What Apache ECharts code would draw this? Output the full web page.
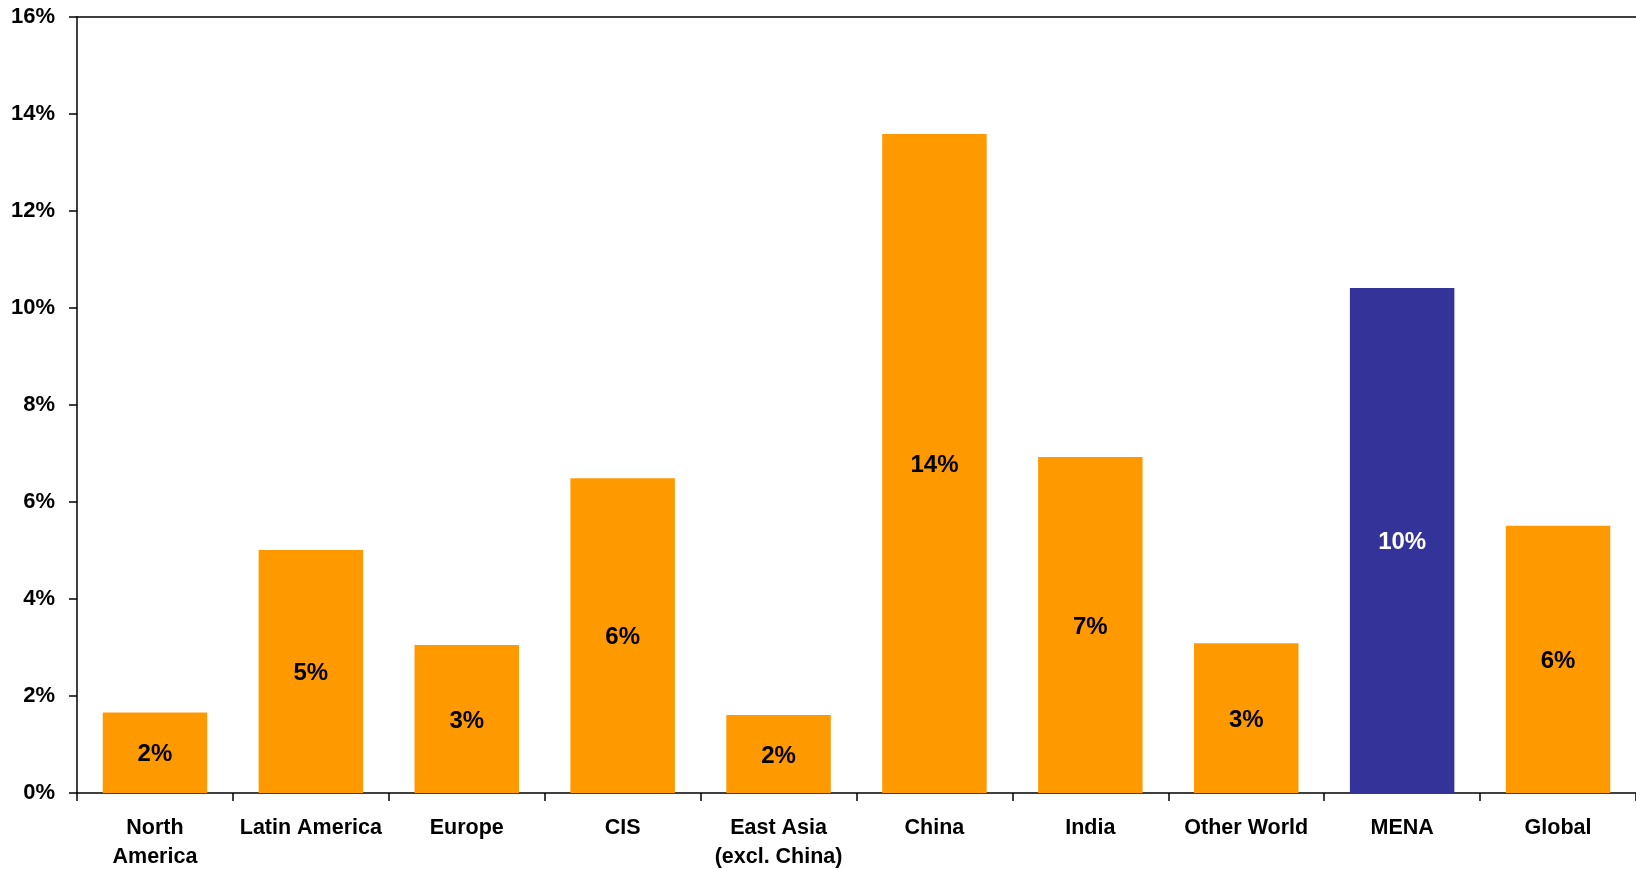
<!DOCTYPE html>
<html>
<head>
<meta charset="utf-8">
<script src="https://cdn.jsdelivr.net/npm/echarts@6/dist/echarts.min.js"></script>
<style>
html,body{margin:0;padding:0;background:#fff;}
#chart{width:1636px;height:870px;}
</style>
</head>
<body>
<div id="chart"></div>
<script>
const categories = ["North\nAmerica", "Latin America", "Europe", "CIS", "East Asia\n(excl. China)", "China", "India", "Other World", "MENA", "Global"];
const values = [1.66, 5.01, 3.05, 6.49, 1.61, 13.59, 6.93, 3.09, 10.41, 5.51];
const highlight = "MENA";
const yTicks = [0, 2, 4, 6, 8, 10, 12, 14, 16];

const ORANGE = "#FF9900", BLUE = "#333399";
const FONT = "Liberation Sans, Arial, sans-serif";

const chart = echarts.init(document.getElementById('chart'));
chart.setOption({
  animation: false,
  backgroundColor: '#fff',
  grid: {left: 77, top: 17, right: 0, bottom: 77, containLabel: false, outerBoundsMode: 'none'},
  xAxis: [{
    type: 'category',
    data: categories,
    boundaryGap: true,
    axisLine: {lineStyle: {color: '#000', width: 1.5}},
    axisTick: {show: true, alignWithLabel: false, length: 8, lineStyle: {color: '#000', width: 1.5}},
    axisLabel: {color: '#000', fontFamily: FONT, fontWeight: 'bold', fontSize: 21.5, lineHeight: 29, margin: 21, interval: 0}
  }, {
    type: 'category',
    position: 'top',
    data: categories,
    axisLine: {show: true, lineStyle: {color: '#000', width: 1.5}},
    axisTick: {show: false},
    axisLabel: {show: false}
  }],
  yAxis: {
    type: 'value',
    min: yTicks[0],
    max: yTicks[yTicks.length - 1],
    interval: 2,
    axisLine: {show: true, lineStyle: {color: '#000', width: 1.5}},
    axisTick: {show: true, length: 8, lineStyle: {color: '#000', width: 1.5}},
    splitLine: {show: false},
    axisLabel: {color: '#000', fontFamily: FONT, fontWeight: 'bold', fontSize: 22, margin: 22, formatter: v => v + '%'}
  },
  series: [{
    type: 'bar',
    barCategoryGap: '33%',
    data: values.map((v, i) => ({
      value: v,
      itemStyle: {color: categories[i] === highlight ? BLUE : ORANGE},
      label: {color: categories[i] === highlight ? '#fff' : '#000'}
    })),
    label: {
      show: true,
      position: 'inside',
      offset: [0, 2],
      fontFamily: FONT,
      fontWeight: 'bold',
      fontSize: 24,
      formatter: p => Math.round(p.value) + '%'
    }
  }]
});
</script>
</body>
</html>
